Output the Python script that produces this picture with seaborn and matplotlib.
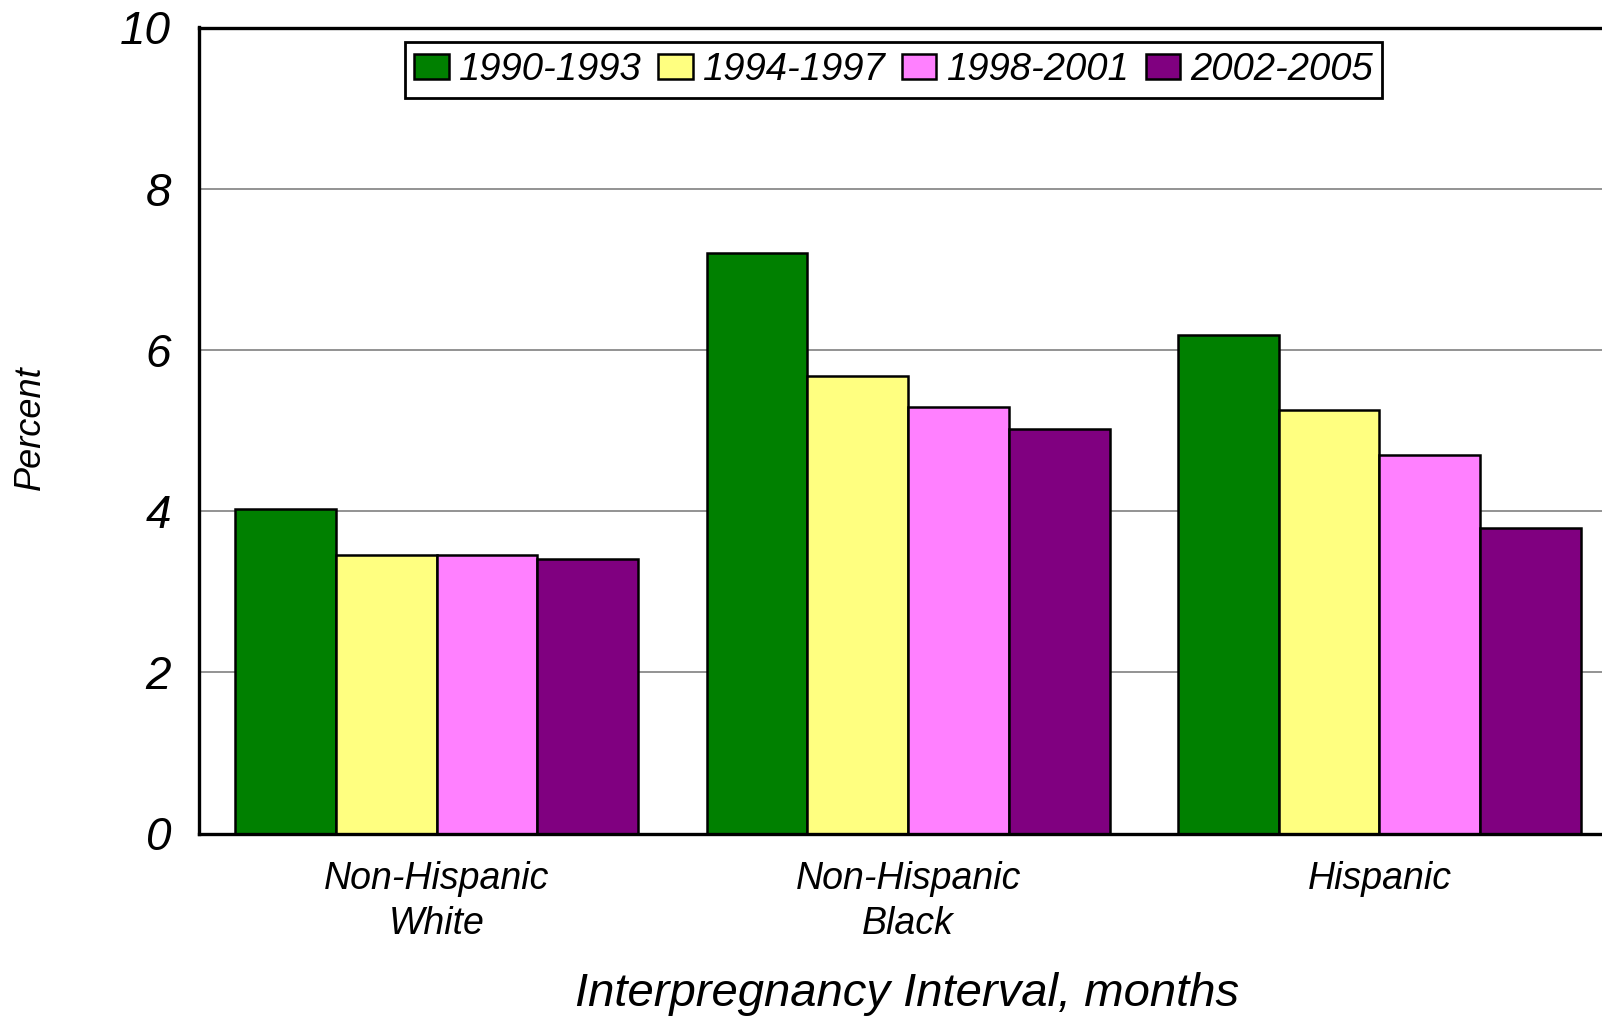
import matplotlib
matplotlib.use("Agg")
import matplotlib.pyplot as plt
import seaborn as sns
import pandas as pd
from matplotlib.patches import Patch

categories = ["Non-Hispanic\nWhite", "Non-Hispanic\nBlack", "Hispanic"]
periods = ["1990-1993", "1994-1997", "1998-2001", "2002-2005"]
values_1990_1993 = [4.03, 7.20, 6.18]
values_1994_1997 = [3.46, 5.68, 5.25]
values_1998_2001 = [3.45, 5.29, 4.69]
values_2002_2005 = [3.40, 5.02, 3.79]
colors = ["#008000", "#FFFF80", "#FF80FF", "#800080"]
yticks = [0, 2, 4, 6, 8, 10]

series = [values_1990_1993, values_1994_1997, values_1998_2001, values_2002_2005]
rows = []
for p, vals in zip(periods, series):
    for c, v in zip(categories, vals):
        rows.append({"Group": c, "Period": p, "Percent": v})
df = pd.DataFrame(rows)

sns.set_theme(style="white")
plt.rcParams["font.family"] = ["Liberation Sans", "DejaVu Sans"]
plt.rcParams["font.style"] = "italic"
plt.rcParams["text.color"] = "black"
plt.rcParams["axes.labelcolor"] = "black"
plt.rcParams["xtick.color"] = "black"
plt.rcParams["ytick.color"] = "black"

fig = plt.figure(figsize=(16.02, 10.19), dpi=100)
ax = fig.add_axes([199/1602, (1019-833.5)/1019, 1 - 199/1602, (833.5-27.5)/1019])

sns.barplot(data=df, x="Group", y="Percent", hue="Period", order=categories,
            hue_order=periods, palette=colors, width=0.855, gap=0,
            edgecolor="black", linewidth=1.8, saturation=1, legend=False, ax=ax)

ax.set_ylim(0, 10)
ax.set_xlim(-0.504, 2.472)
ax.set_yticks(yticks)
ax.set_yticklabels([str(t) for t in yticks], fontsize=33, fontstyle="italic", color="black")
ax.set_xticks(range(len(categories)))
ax.set_xticklabels(categories, fontsize=27, fontstyle="italic", linespacing=1.3, color="black")
ax.tick_params(axis="y", length=0, pad=20)
ax.tick_params(axis="x", length=0, pad=20)
ax.yaxis.grid(True, color="#808080", linewidth=1.2)
ax.set_axisbelow(True)

for side in ["left", "bottom", "top"]:
    ax.spines[side].set_color("black")
    ax.spines[side].set_linewidth(2.4)
ax.spines["right"].set_visible(False)

ax.set_xlabel("Interpregnancy Interval, months", fontsize=34, fontstyle="italic", color="black")
ax.xaxis.set_label_coords(0.505, (833.5-994)/806)
ax.xaxis.label.set_va("center")
ax.set_ylabel("Percent", fontsize=26, fontstyle="italic", color="black")
ax.yaxis.set_label_coords((30-199)/1403, 0.503)
ax.yaxis.label.set_va("center")

handles = [Patch(facecolor=c, edgecolor="black", linewidth=1.8) for c in colors]
leg = fig.legend(handles, periods, loc="center", ncol=4,
                 bbox_to_anchor=(893.5/1602, 1 - 70/1019),
                 frameon=True, fancybox=False, framealpha=1,
                 prop={"style": "italic", "size": 27.5},
                 handlelength=0.9, handleheight=0.65, handletextpad=0.25,
                 columnspacing=0.45, borderpad=0.25, borderaxespad=0)
leg.get_frame().set_edgecolor("black")
leg.get_frame().set_linewidth(2.0)
for t in leg.get_texts():
    t.set_color("black")

fig.savefig("out.png", dpi=100)
